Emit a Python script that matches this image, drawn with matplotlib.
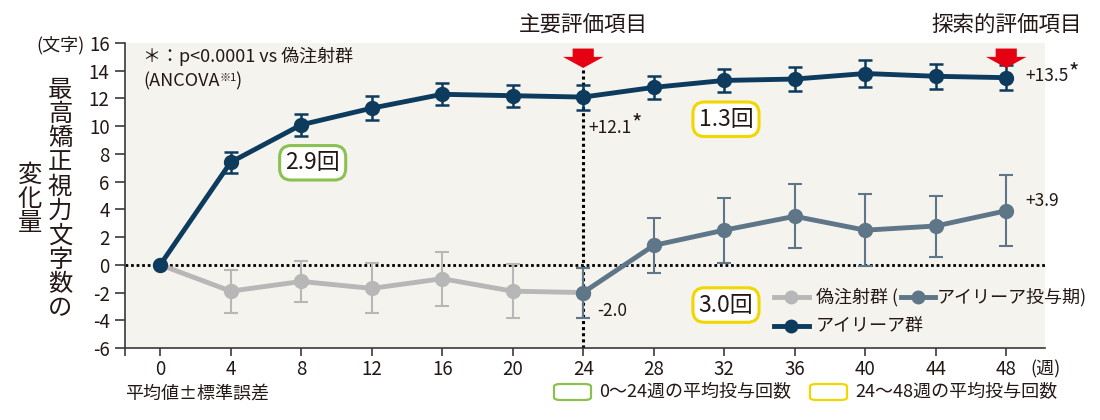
import matplotlib
matplotlib.use('Agg')
import matplotlib.pyplot as plt
from matplotlib.patches import Polygon, FancyBboxPatch
from matplotlib.transforms import blended_transform_factory

plt.rcParams['font.family'] = ['Noto Sans CJK JP', 'DejaVu Sans']
plt.rcParams['axes.unicode_minus'] = False

# data
weeks_afl = [0, 4, 8, 12, 16, 20, 24, 28, 32, 36, 40, 44, 48]
afl_mean = [0, 7.4, 10.1, 11.3, 12.3, 12.2, 12.1, 12.8, 13.3, 13.4, 13.8, 13.6, 13.5]
afl_se = [0, 0.75, 0.8, 0.85, 0.8, 0.8, 0.9, 0.85, 0.8, 0.85, 1.0, 0.9, 0.9]

weeks_sham = [0, 4, 8, 12, 16, 20, 24]
sham_mean = [0, -1.9, -1.2, -1.7, -1.0, -1.9, -2.0]
sham_se = [0, 1.55, 1.45, 1.8, 1.95, 1.95, 1.8]

weeks_cross = [24, 28, 32, 36, 40, 44, 48]
cross_mean = [-2.0, 1.4, 2.5, 3.5, 2.5, 2.8, 3.9]
cross_se = [1.8, 2.0, 2.35, 2.3, 2.6, 2.2, 2.55]

endpoint_weeks = [24, 48]
endpoint_labels = ['主要評価項目', '探索的評価項目']
x_ticks = list(range(0, 49, 4))
y_ticks = list(range(-6, 17, 2))
dose_labels = ['2.9回', '1.3回', '3.0回']

NAVY = '#0d3b5e'
GRAY = '#b7b7b7'
SLATE = '#5e7688'
BG = '#f4f3ee'
RED = '#e50012'
GREEN = '#8cc152'
YELLOW = '#f2d600'
INK = '#231815'

fig = plt.figure(figsize=(11, 4.2), dpi=100)
ax = fig.add_axes([0.1136, 0.1714, 0.8364, 0.7262])
ax.set_facecolor(BG)
ax.set_xlim(-2, 50.2)
ax.set_ylim(-6, 16)
for s in ['top', 'right']:
    ax.spines[s].set_visible(False)
for s in ['left', 'bottom']:
    ax.spines[s].set_color('#3a3a3a')
    ax.spines[s].set_linewidth(1.2)

ax.set_xticks([-2] + x_ticks)
ax.set_xticklabels([''] + [str(w) for w in x_ticks])
ax.set_yticks(y_ticks)
ax.tick_params(axis='x', direction='out', length=6, width=1.2, color='#3a3a3a',
               labelsize=13.5, labelcolor=INK, pad=2)
ax.tick_params(axis='y', direction='out', length=7, width=1.2, color='#3a3a3a',
               labelsize=13.5, labelcolor=INK, pad=4)

# reference lines
ax.axhline(0, color='black', lw=2, ls=(0, (1, 1)), zorder=1.5)
ax.vlines(endpoint_weeks[0], -6, 14.2, color='black', lw=2.2, ls=(0, (1, 1)), zorder=1.5)

# series
ax.errorbar(weeks_sham, sham_mean, yerr=sham_se, fmt='-o', color=GRAY, lw=3.5, ms=10,
            elinewidth=1.5, capsize=5, capthick=1.5, zorder=3)
ax.errorbar(weeks_cross, cross_mean, yerr=cross_se, fmt='-o', color=SLATE, lw=3.5, ms=10,
            elinewidth=1.5, capsize=5, capthick=1.5, zorder=3)
ax.errorbar(weeks_afl, afl_mean, yerr=afl_se, fmt='-o', color=NAVY, lw=3.5, ms=10,
            elinewidth=1.8, capsize=5, capthick=1.8, zorder=4)

# red arrows and endpoint titles
tr_top = blended_transform_factory(ax.transData, fig.transFigure)
for w, lab in zip(endpoint_weeks, endpoint_labels):
    pts = [(w - 0.6, 15.6), (w + 0.6, 15.6), (w + 0.6, 15.0), (w + 1.15, 15.0),
           (w, 14.2), (w - 1.15, 15.0), (w - 0.6, 15.0)]
    ax.add_patch(Polygon(pts, closed=True, color=RED, lw=0, zorder=5))
    ax.text(w, 0.94, lab, transform=tr_top, ha='center', va='center',
            fontsize=15.5, color=INK)

# value labels
def star_label(x, y, txt):
    t = ax.text(x, y, txt, fontsize=12.5, color=INK, ha='left', va='center', zorder=6)
    ax.annotate('*', xy=(1, 0.7), xycoords=t, fontsize=16, color=INK,
                ha='left', va='center')

star_label(24.3, 9.9, '+12.1')
star_label(49.1, 13.6, '+13.5')
ax.text(49.1, 4.6, '+3.9', fontsize=12.5, color=INK, ha='left', va='center')
ax.text(24.8, -3.35, '-2.0', fontsize=12.5, color=INK, ha='left', va='center')

# dose count boxes
for lab, (bx, by), ec in zip(dose_labels, [(8.65, 7.36), (32.1, 10.5), (32.1, -2.9)],
                             [GREEN, YELLOW, YELLOW]):
    ax.text(bx, by, lab, fontsize=16.5, color=INK, ha='center', va='center', zorder=6,
            bbox=dict(boxstyle='round,pad=0.25,rounding_size=0.5', fc='white', ec=ec, lw=2.2))

# significance note
ax.text(0.02, 0.955, '＊：p<0.0001 vs 偽注射群', transform=ax.transAxes, fontsize=13,
        color=INK, ha='left', va='center')
t = ax.text(0.02, 0.875, '(ANCOVA', transform=ax.transAxes, fontsize=13,
            color=INK, ha='left', va='center')
ax.annotate('※1', xy=(1, 0.65), xycoords=t, fontsize=8, color=INK,
            ha='left', va='center')
ax.annotate(')', xy=(1, 0.5), xycoords=t, xytext=(11, 0), textcoords='offset points',
            fontsize=13, color=INK, ha='left', va='center')

# legend drawn in axes coordinates
def legend_line(x0, x1, y, c):
    ax.plot([x0, x1], [y, y], color=c, lw=3.5, transform=ax.transAxes, clip_on=False, zorder=6)
    ax.plot([(x0 + x1) / 2], [y], 'o', color=c, ms=9, transform=ax.transAxes,
            clip_on=False, zorder=6)

legend_line(0.705, 0.743, 0.167, GRAY)
ax.text(0.751, 0.167, '偽注射群 (', transform=ax.transAxes, fontsize=13, color=INK,
        ha='left', va='center')
legend_line(0.843, 0.880, 0.167, SLATE)
ax.text(0.882, 0.167, 'アイリーア投与期)', transform=ax.transAxes, fontsize=13, color=INK,
        ha='left', va='center')
legend_line(0.705, 0.743, 0.072, NAVY)
ax.text(0.751, 0.072, 'アイリーア群', transform=ax.transAxes, fontsize=13, color=INK,
        ha='left', va='center')

# axis annotations
ax.text(1.0, -0.07, '(週)', transform=ax.transAxes, fontsize=13, color=INK,
        ha='center', va='center')
fig.text(0.0765, 0.893, '(文字)', fontsize=13, color=INK, ha='right', va='center')
fig.text(0.1136, 0.064, '平均値±標準誤差', fontsize=13, color=INK, ha='left', va='center')

# vertical y-axis label, one character at a time
col1 = '最高矯正視力文字数の'
col2 = '変化量'
step = 24.3
for col, xpx in [(col1, 60), (col2, 30)]:
    n = len(col)
    for i, ch in enumerate(col):
        ypx = 199 + (i - (n - 1) / 2) * step
        fig.text(xpx / 1100, 1 - ypx / 420, ch, fontsize=17.5, color=INK,
                 ha='center', va='center')

# bottom key for dose boxes
for (x0, x1), ec, lab in [((554, 591), GREEN, '0〜24週の平均投与回数'),
                          ((810, 847), YELLOW, '24〜48週の平均投与回数')]:
    fig.patches.append(FancyBboxPatch((x0 / 1100, 20 / 420), (x1 - x0) / 1100, 16 / 420,
                                      boxstyle='round,pad=0,rounding_size=0.006',
                                      transform=fig.transFigure, fc='white', ec=ec, lw=1.6))
    fig.text((x1 + 8) / 1100, 28 / 420, lab, fontsize=13, color=INK, ha='left', va='center')

fig.savefig('out.png', dpi=100, facecolor='white')
